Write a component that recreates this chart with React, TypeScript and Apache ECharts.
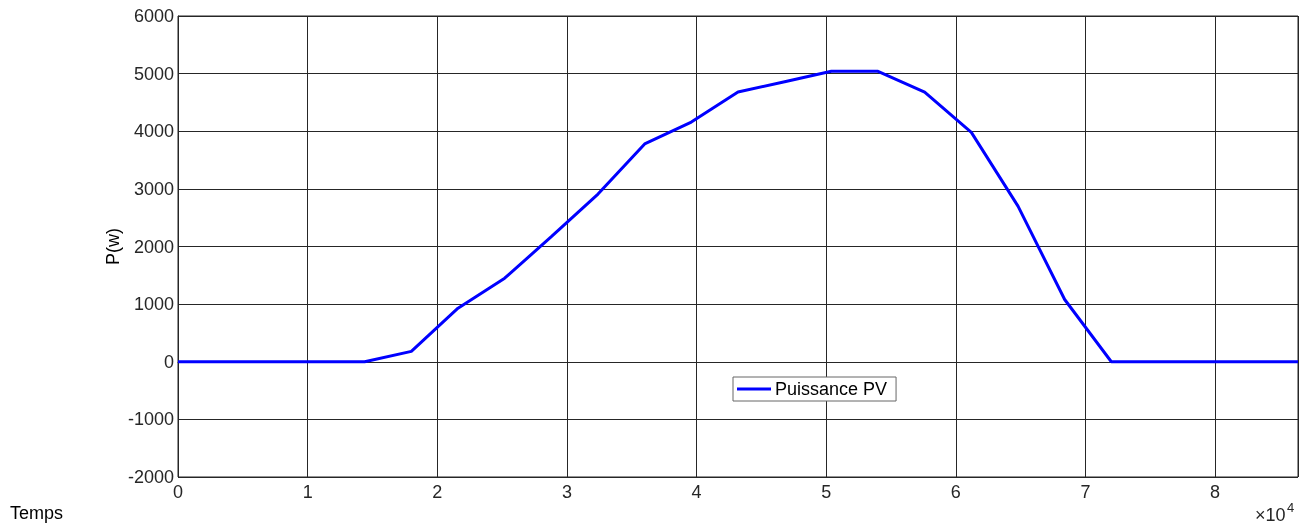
import React, { useEffect, useRef } from "react";
import * as echarts from "echarts";

const timeSeconds = [0, 14400, 18000, 21600, 25200, 28800, 32400, 36000, 39600, 43200, 46800, 50400, 54000, 57600, 61200, 64800, 68400, 72000, 86400];
const powerW = [0, 0, 180, 930, 1450, 2170, 2910, 3780, 4160, 4680, 4860, 5040, 5040, 4680, 3980, 2700, 1080, 0, 0];
const seriesName = "Puissance PV";
const yTicks = [-2000, -1000, 0, 1000, 2000, 3000, 4000, 5000, 6000];
const xLabelText = "Temps";
const yLabelText = "P(w)";
const xExponent = "×10";
const xExponentPow = "4";

export default function App() {
  const ref = useRef<HTMLDivElement>(null);
  useEffect(() => {
    if (!ref.current) return;
    const chart = echarts.init(ref.current, null, { renderer: "svg" });
    const font = "'Liberation Sans', Arial, sans-serif";
    const gridColor = "#262626";
    chart.setOption({
      animation: false,
      textStyle: { fontFamily: font },
      grid: {
        left: 178,
        right: 8,
        top: 16,
        bottom: 49,
        show: true,
        borderColor: gridColor,
        borderWidth: 1,
        backgroundColor: "#fff",
      },
      legend: {
        show: true,
        left: 733,
        top: 377,
        orient: "horizontal",
        backgroundColor: "#fff",
        borderColor: "#666",
        borderWidth: 1,
        borderRadius: 0,
        padding: [3, 9, 3, 4],
        itemWidth: 34,
        itemHeight: 3,
        itemGap: 0,
        icon: "rect",
        textStyle: { fontSize: 18, color: "#000", fontFamily: font, padding: [0, 0, 0, -1] },
        data: [{ name: seriesName, icon: "rect" }],
      },
      xAxis: {
        type: "value",
        min: 0,
        max: 86400,
        interval: 10000,
        axisLine: { show: true, lineStyle: { color: gridColor, width: 1 } },
        axisTick: { show: true, inside: true, length: 5, lineStyle: { color: gridColor } },
        axisLabel: {
          fontSize: 18,
          color: "#262626",
          fontFamily: font,
          margin: 6,
          formatter: (v: number) => (v % 10000 === 0 ? String(v / 10000) : ""),
        },
        splitLine: { show: true, lineStyle: { color: gridColor, width: 1 } },
      },
      yAxis: {
        type: "value",
        min: yTicks[0],
        max: yTicks[yTicks.length - 1],
        interval: 1000,
        name: yLabelText,
        nameLocation: "middle",
        nameGap: 56,
        nameMoveOverlap: false,
        nameTextStyle: { fontSize: 18, color: "#000", fontFamily: font },
        axisLine: { show: true, lineStyle: { color: gridColor, width: 1 } },
        axisTick: { show: true, inside: true, length: 5, lineStyle: { color: gridColor } },
        axisLabel: {
          fontSize: 18,
          color: "#262626",
          fontFamily: font,
          margin: 4,
          formatter: (v: number) => String(v),
        },
        splitLine: { show: true, lineStyle: { color: gridColor, width: 1 } },
      },
      graphic: [
        {
          type: "text",
          left: 10,
          top: 504,
          style: { text: xLabelText, fontSize: 18, fill: "#000", fontFamily: font },
        },
        {
          type: "text",
          left: 1255,
          top: 506,
          style: { text: xExponent, fontSize: 18, fill: "#262626", fontFamily: font },
        },
        {
          type: "text",
          left: 1287,
          top: 501,
          style: { text: xExponentPow, fontSize: 13, fill: "#262626", fontFamily: font },
        },
      ],
      series: [
        {
          name: seriesName,
          type: "line",
          data: timeSeconds.map((t, i) => [t, powerW[i]]),
          showSymbol: false,
          symbol: "none",
          lineStyle: { color: "#0000ff", width: 3 },
          itemStyle: { color: "#0000ff" },
        },
      ],
    });
    return () => chart.dispose();
  }, []);
  return (
    <div
      ref={ref}
      style={{ position: "fixed", left: 0, top: 0, width: 1306, height: 526 }}
    />
  );
}
